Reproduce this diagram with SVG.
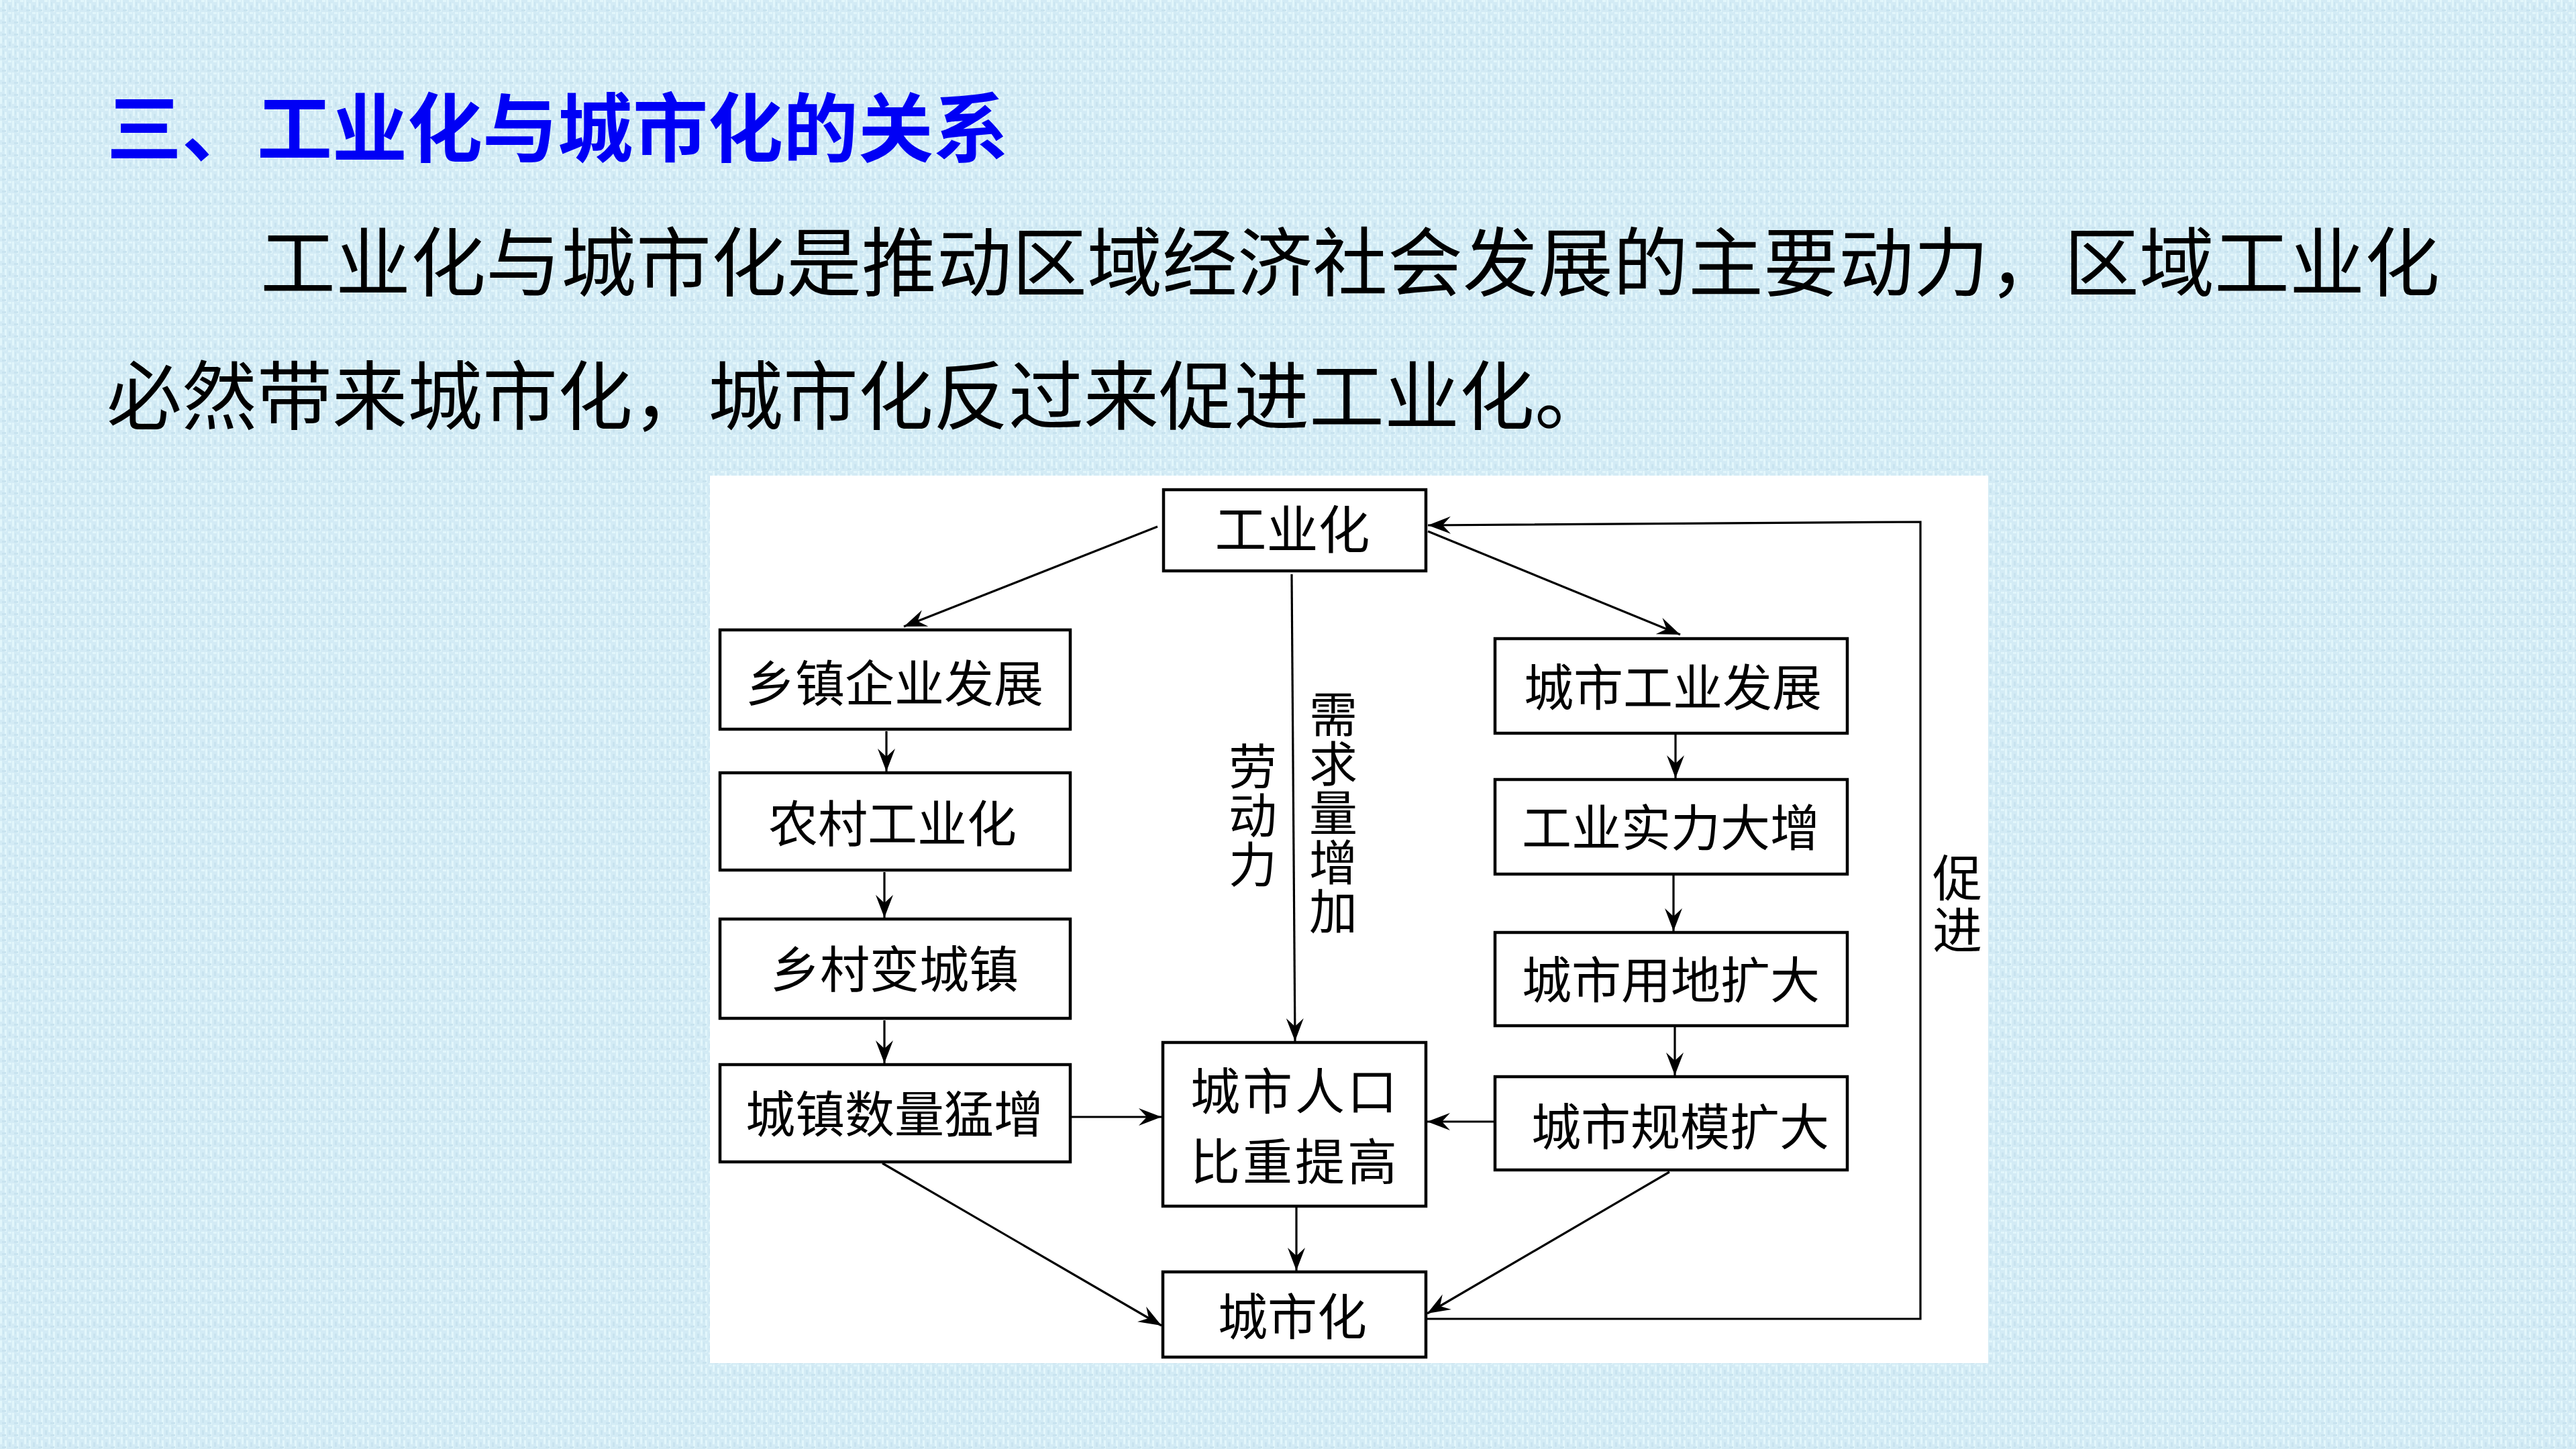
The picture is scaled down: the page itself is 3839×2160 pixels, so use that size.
<svg xmlns="http://www.w3.org/2000/svg" width="3839" height="2160" viewBox="0 0 3839 2160">
  <defs>
    <pattern id="weave" width="18" height="18" patternUnits="userSpaceOnUse">
      <rect width="18" height="18" fill="#d3ebf5"/>
      <rect x="0" y="0" width="3" height="11" fill="#e2f6fb"/>
      <rect x="7" y="5" width="3" height="13" fill="#e2f6fb"/>
      <rect x="12" y="0" width="5" height="3" fill="#e2f6fb"/>
      <rect x="3" y="14" width="6" height="3" fill="#c8e3ef"/>
      <rect x="13" y="8" width="3" height="7" fill="#c8e3ef"/>
      <rect x="4" y="3" width="2" height="6" fill="#cbe6f1"/>
    </pattern>
    <marker id="arrow" markerUnits="userSpaceOnUse" markerWidth="40" markerHeight="32" viewBox="-36 -16 40 32" refX="0" refY="0" orient="auto">
      <path d="M0,0 L-34,-13 L-22,0 L-34,13 Z" fill="#000"/>
    </marker>
    <style>
      .box { fill: #fff; stroke: #000; stroke-width: 4.5; }
      .lbl { font-family: "Noto Sans CJK SC", "Noto Sans CJK TC", sans-serif; font-size: 74px; fill: #000; text-anchor: middle; }
      .vlbl { font-family: "Noto Sans CJK SC", "Noto Sans CJK TC", sans-serif; font-size: 72px; fill: #000; writing-mode: vertical-rl; text-orientation: upright; }
      .link { fill: none; stroke: #000; stroke-width: 3.2; }
      .arr { marker-end: url(#arrow); }
      .title { font-family: "Noto Sans CJK SC", "Noto Sans CJK TC", sans-serif; font-size: 112px; font-weight: 700; fill: #0000f5; }
      .body { font-family: "Noto Sans CJK SC", "Noto Sans CJK TC", sans-serif; font-size: 112px; fill: #000; }
    </style>
  </defs>

  <!-- textured slide background -->
  <rect x="0" y="0" width="3839" height="2160" fill="url(#weave)"/>

  <!-- heading and paragraph -->
  <text class="title" x="159" y="233">三、工业化与城市化的关系</text>
  <text class="body" x="388" y="433">工业化与城市化是推动区域经济社会发展的主要动力，区域工业化</text>
  <text class="body" x="159" y="632">必然带来城市化，城市化反过来促进工业化。</text>

  <!-- white diagram panel -->
  <rect x="1058" y="709" width="1905" height="1323" fill="#fff"/>

  <!-- connectors -->
  <g id="connectors">
    <line class="link arr" x1="1725" y1="785" x2="1347" y2="934"/>
    <line class="link arr" x1="2128" y1="792" x2="2504" y2="946"/>
    <line class="link arr" x1="1925" y1="856" x2="1930" y2="1552"/>
    <line class="link arr" x1="1321" y1="1090" x2="1321" y2="1150"/>
    <line class="link arr" x1="1318" y1="1300" x2="1318" y2="1368"/>
    <line class="link arr" x1="1318" y1="1521" x2="1318" y2="1585"/>
    <line class="link arr" x1="1597" y1="1665" x2="1731" y2="1665"/>
    <line class="link arr" x1="1315" y1="1734" x2="1731" y2="1976"/>
    <line class="link arr" x1="1932" y1="1800" x2="1932" y2="1894"/>
    <line class="link arr" x1="2497" y1="1095" x2="2497" y2="1160"/>
    <line class="link arr" x1="2494" y1="1305" x2="2494" y2="1388"/>
    <line class="link arr" x1="2496" y1="1531" x2="2496" y2="1603"/>
    <line class="link arr" x1="2226" y1="1672" x2="2127" y2="1672"/>
    <path class="link arr" d="M2488,1747 Q2320,1845 2127,1958"/>
    <path class="link arr" d="M2127,1966 L2862,1966 L2862,778 L2128,783"/>
  </g>

  <!-- connector labels, set vertically -->
  <text class="vlbl" x="1867" y="1106" style="letter-spacing:1px">劳动力</text>
  <text class="vlbl" x="1987" y="1028" style="letter-spacing:1.5px">需求量增加</text>
  <text class="vlbl" x="2917" y="1271" style="font-size:74px;letter-spacing:4px">促进</text>

  <!-- nodes -->
  <g id="n-gongyehua">
    <rect class="box" x="1734" y="730" width="391" height="121"/>
    <text class="lbl" x="1926" y="818" style="font-size:77px">工业化</text>
  </g>
  <g id="n-xiangzhen-qiye">
    <rect class="box" x="1073" y="939" width="522" height="148"/>
    <text class="lbl" x="1333" y="1046">乡镇企业发展</text>
  </g>
  <g id="n-nongcun-gongyehua">
    <rect class="box" x="1073" y="1152" width="522" height="145"/>
    <text class="lbl" x="1330" y="1255">农村工业化</text>
  </g>
  <g id="n-xiangcun-bian">
    <rect class="box" x="1073" y="1370" width="522" height="148"/>
    <text class="lbl" x="1333" y="1472">乡村变城镇</text>
  </g>
  <g id="n-chengzhen-shuliang">
    <rect class="box" x="1073" y="1587" width="522" height="145"/>
    <text class="lbl" x="1333" y="1688">城镇数量猛增</text>
  </g>
  <g id="n-chengshi-gongye">
    <rect class="box" x="2228" y="952" width="525" height="141"/>
    <text class="lbl" x="2493" y="1052">城市工业发展</text>
  </g>
  <g id="n-gongye-shili">
    <rect class="box" x="2228" y="1162" width="525" height="141"/>
    <text class="lbl" x="2490" y="1261">工业实力大增</text>
  </g>
  <g id="n-yongdi">
    <rect class="box" x="2228" y="1390" width="525" height="139"/>
    <text class="lbl" x="2490" y="1488">城市用地扩大</text>
  </g>
  <g id="n-guimo">
    <rect class="box" x="2228" y="1605" width="525" height="139"/>
    <text class="lbl" x="2504" y="1707">城市规模扩大</text>
  </g>
  <g id="n-renkou">
    <rect class="box" x="1733" y="1554" width="392" height="244"/>
    <text class="lbl" x="1930" y="1654" style="letter-spacing:4px">城市人口</text>
    <text class="lbl" x="1930" y="1759" style="letter-spacing:4px">比重提高</text>
  </g>
  <g id="n-chengshihua">
    <rect class="box" x="1733" y="1896" width="392" height="127"/>
    <text class="lbl" x="1926" y="1990">城市化</text>
  </g>
</svg>
